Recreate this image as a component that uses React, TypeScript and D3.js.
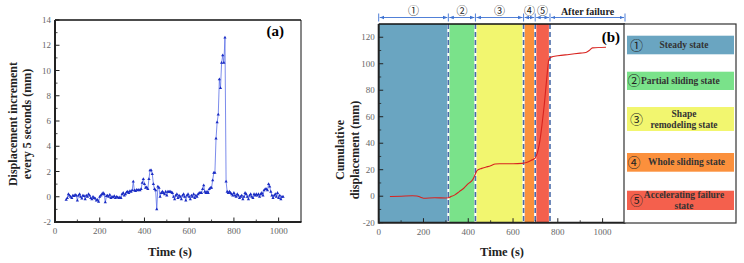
import React from 'react';
import * as d3 from 'd3';

// panel (a): displacement increment every 5 s, 50 s .. 1020 s
const incStart = 50;
const incStep = 5;
const incValues = [
  -0.25, -0.1, 0.2, 0.1, 0.0, -0.1, 0.1, 0.05, 0.15, 0.1,
  -0.3, 0.1, 0.2, 0.0, -0.15, 0.1, 0.05, -0.2, 0.1, 0.0,
  0.2, 0.1, -0.1, -0.2, 0.0, -0.1, -0.15, -0.3, -0.25, -0.4,
  0.0, 0.1, 0.2, 0.3, 0.2, -0.45, 0.05, 0.1, 0.0, 0.15,
  -0.1, 0.0, -0.05, 0.05, -0.1, 0.0, -0.05, -0.1, -0.05, -0.1,
  0.2, 0.3, 0.1, 0.2, 0.35, 0.4, 0.3, 0.45, 0.4, 0.5,
  1.2, 0.5, 0.45, 0.55, 0.5, 0.55, 0.5, 0.6, 1.1, 1.4,
  1.0, 0.7, 0.75, 0.6, 1.4, 2.1, 2.1, 1.8, 1.0, 0.6,
  0.5, -1.0, 0.8, 0.7, 0.0, 0.3, 0.4, 0.3, 0.2, 0.4,
  0.1, 0.4, 0.4, 0.4, 0.35, 0.3, 0.0, -0.2, 0.1, 0.2,
  -0.1, 0.1, 0.0, -0.2, 0.1, 0.2, 0.0, -0.3, 0.1, 0.2,
  0.0, -0.2, 0.1, 0.0, 0.2, -0.1, 0.1, 0.0, 0.2, 0.3,
  0.3, 0.3, 0.6, 0.9, 0.4, 0.3, 0.4, 0.3, 0.6, 0.7,
  0.7, 1.3, 1.9, 1.9, 4.6, 5.9, 6.5, 9.3, 8.6, 10.6,
  11.2, 10.6, 12.6, 1.2, 0.4, 0.3, 0.4, 0.3, 0.2, 0.1,
  0.3, 0.1, 0.0, 0.2, 0.1, -0.1, 0.0, 0.1, -0.2, 0.0,
  0.3, 0.2, 0.0, -0.2, 0.1, 0.2, 0.0, -0.1, 0.2, 0.1,
  0.2, 0.1, 0.2, 0.0, 0.2, 0.3, 0.1, 0.5, 0.6, 0.6,
  0.5, 1.0, 0.8, 0.4, 0.1, -0.1, 0.1, 0.2, 0.0, 0.3,
  -0.1, 0.1, -0.2, 0.0, 0.0,
];

// panel (b): cumulative displacement
const cumTimes = [50, 100, 150, 170, 190, 200, 250, 300, 310, 320, 340, 360, 380, 400, 420, 430, 440, 460, 480, 500, 520, 540, 600, 640, 660, 680, 700, 705, 712, 720, 730, 740, 750, 760, 770, 800, 850, 900, 925, 940, 955, 1015];
const cumValues = [-0.2, 0, 0.3, 0.2, -1, -1.5, -1.2, -1.3, -1.2, -0.5, 1, 3.5, 6, 9.5, 12.5, 16, 19.5, 21, 22, 23, 24.3, 24.5, 24.5, 24.8, 25.5, 27, 29, 31, 35, 42, 55, 70, 88, 103, 105, 106, 107, 108, 108.5, 110, 112, 112.5];

// stage boundaries (s)
const stageBounds = [0, 311, 432, 647, 699, 765, 1100];
const stageLabels = ['①', '②', '③', '④', '⑤', 'After failure'];
const stageColors = ['#6aa5c1', '#7ae28a', '#f2f66f', '#fb903c', '#f4604d'];
const legendLines = [['Steady state'], ['Partial sliding state'], ['Shape', 'remodeling state'], ['Whole sliding state'], ['Accelerating failure', 'state']];
const legendNums = ['①', '②', '③', '④', '⑤'];

const serif = 'Liberation Serif, DejaVu Serif, serif';
const circ = 'Noto Sans CJK SC, DejaVu Sans, sans-serif';
const W = 744;
const H = 263;

function Axes({ x, y, xMajor, xMinor, yMajor, yMinor }: any) {
  const [x0, x1] = x.range();
  const [y0, y1] = y.range();
  return (
    <g>
      {xMinor.map((t: number) => (
        <line key={'xm' + t} x1={x(t)} x2={x(t)} y1={y0} y2={y0 - 2.5} stroke="#222" strokeWidth={0.8} />
      ))}
      {xMajor.map((t: number) => (
        <g key={'x' + t}>
          <line x1={x(t)} x2={x(t)} y1={y0} y2={y0 - 4.5} stroke="#222" strokeWidth={1} />
          <text x={x(t)} y={y0 + 12} textAnchor="middle" fontSize={9} fill="#666" fontFamily={serif}>{t}</text>
        </g>
      ))}
      {yMinor.map((t: number) => (
        <line key={'ym' + t} x1={x0} x2={x0 + 2.5} y1={y(t)} y2={y(t)} stroke="#222" strokeWidth={0.8} />
      ))}
      {yMajor.map((t: number) => (
        <g key={'y' + t}>
          <line x1={x0} x2={x0 + 4.5} y1={y(t)} y2={y(t)} stroke="#222" strokeWidth={1} />
          <text x={x0 - 4} y={y(t) + 3} textAnchor="end" fontSize={9} fill="#666" fontFamily={serif}>{t}</text>
        </g>
      ))}
      <line x1={x0} x2={x1} y1={y1} y2={y1} stroke="#111" strokeWidth={1.5} />
      <line x1={x1} x2={x1} y1={y1} y2={y0} stroke="#111" strokeWidth={1} />
      <line x1={x0} x2={x1 + 0.5} y1={y0} y2={y0} stroke="#222" strokeWidth={2} />
      <line x1={x0} x2={x0} y1={y1} y2={y0 + 1} stroke="#222" strokeWidth={2} />
    </g>
  );
}

export default function App() {
  // ---- panel (a)
  const xa = d3.scaleLinear().domain([0, 1100]).range([55, 301]);
  const ya = d3.scaleLinear().domain([-2, 14]).range([222, 20]);
  const incData = incValues.map((v, i) => ({ t: incStart + i * incStep, v }));
  const lineA = d3.line<any>().x(d => xa(d.t)).y(d => ya(d.v));
  const tri = d3.symbol().type(d3.symbolTriangle).size(4.5)();

  // ---- panel (b)
  const xb = d3.scaleLinear().domain([0, 1100]).range([378.7, 625]);
  const yb = d3.scaleLinear().domain([-20, 130]).range([222.7, 24]);
  const cumData = cumTimes.map((t, i) => ({ t, v: cumValues[i] }));
  const lineB = d3.line<any>().x(d => xb(d.t)).y(d => yb(d.v)).curve(d3.curveMonotoneX);

  const xMajor = d3.range(0, 1001, 200);
  const xMinor = d3.range(100, 1100, 200);

  const legendY = [[35.7, 54.3], [71.7, 90], [107, 131], [153, 171.7], [190.7, 210]];
  const arrowY = 17.5;

  return (
    <svg width={W} height={H} style={{ position: 'absolute', left: 0, top: 0, background: '#fff' }}>
      <defs>
        <marker id="arr" viewBox="0 0 10 10" refX={10} refY={5} markerWidth={5} markerHeight={5} orient="auto-start-reverse">
          <path d="M0,1 L10,5 L0,9 z" fill="#3d72d2" />
        </marker>
      </defs>

      {/* ===== panel (a) ===== */}
      <path d={lineA(incData) || ''} fill="none" stroke="#5a6ee6" strokeWidth={0.8} />
      {incData.map((d, i) => (
        <path key={i} d={tri || ''} transform={`translate(${xa(d.t)},${ya(d.v)})`} fill="#1a2cc4" />
      ))}
      <Axes x={xa} y={ya} xMajor={xMajor} xMinor={xMinor} yMajor={d3.range(-2, 15, 2)} yMinor={d3.range(-1, 14, 2)} />
      <text x={284} y={36} textAnchor="end" fontSize={15} fontWeight="bold" fontFamily={serif}>(a)</text>
      <text x={170} y={256} textAnchor="middle" fontSize={12.5} fontWeight="bold" fontFamily={serif} fill="#222">Time (s)</text>
      <text transform="translate(17,124) rotate(-90)" textAnchor="middle" fontSize={12} fontWeight="bold" fontFamily={serif} fill="#222">Displacement increment</text>
      <text transform="translate(31,124) rotate(-90)" textAnchor="middle" fontSize={12} fontWeight="bold" fontFamily={serif} fill="#222">every 5 seconds (mm)</text>

      {/* ===== panel (b) ===== */}
      {stageColors.map((c, i) => (
        <rect key={i} x={xb(stageBounds[i])} y={yb(130)} width={xb(stageBounds[i + 1]) - xb(stageBounds[i])} height={yb(-20) - yb(130)} fill={c} />
      ))}
      {stageBounds.slice(1, 6).map((b, i) => (
        <g key={i}>
          <line x1={xb(b)} x2={xb(b)} y1={yb(130)} y2={yb(-20)} stroke="#fff" strokeWidth={2.2} />
          <line x1={xb(b)} x2={xb(b)} y1={yb(130)} y2={yb(-20)} stroke="#4a6aa8" strokeWidth={1.6} strokeDasharray="5,3" />
        </g>
      ))}
      <path d={lineB(cumData) || ''} fill="none" stroke="#d8231f" strokeWidth={1.1} />
      <Axes x={xb} y={yb} xMajor={xMajor} xMinor={xMinor} yMajor={d3.range(-20, 121, 20)} yMinor={d3.range(-10, 130, 20)} />
      <text x={620} y={42} textAnchor="end" fontSize={15} fontWeight="bold" fontFamily={serif}>(b)</text>
      <text x={502} y={256} textAnchor="middle" fontSize={12.5} fontWeight="bold" fontFamily={serif} fill="#222">Time (s)</text>
      <text transform="translate(344,150) rotate(-90)" textAnchor="middle" fontSize={12} fontWeight="bold" fontFamily={serif} fill="#222">Cumulative</text>
      <text transform="translate(359,150) rotate(-90)" textAnchor="middle" fontSize={12} fontWeight="bold" fontFamily={serif} fill="#222">displacement (mm)</text>

      {/* stage brackets above panel (b) */}
      {stageLabels.map((s, i) => {
        const a = xb(stageBounds[i]);
        const b = xb(stageBounds[i + 1]);
        return (
          <g key={i}>
            <line x1={a + 1} x2={b - 1} y1={arrowY} y2={arrowY} stroke="#3d72d2" strokeWidth={0.9} markerStart="url(#arr)" markerEnd="url(#arr)" />
            <text x={(a + b) / 2} y={i === 5 ? 14.5 : 14.5} textAnchor="middle" fontSize={i === 5 ? 10 : 11} fontWeight={i === 5 ? 'bold' : 'normal'} fontFamily={i === 5 ? serif : circ} fill="#222">{s}</text>
          </g>
        );
      })}
      {stageBounds.map((b, i) => (
        <line key={i} x1={xb(b)} x2={xb(b)} y1={arrowY - 4} y2={arrowY + 4} stroke="#3d72d2" strokeWidth={0.9} />
      ))}

      {/* legend box */}
      <rect x={624} y={24} width={112} height={199} fill="#fff" stroke="#333" strokeWidth={1.2} />
      {legendY.map(([t, b], i) => {
        const lines = legendLines[i];
        const cy = (t + b) / 2;
        const oneLine = lines.length === 1;
        const longText = i === 1 || i === 3;
        return (
          <g key={i}>
            <rect x={627} y={t} width={107} height={b - t} fill={stageColors[i]} />
            <text x={i === 1 || i === 3 ? 627.5 : 630} y={cy + 4.5} fontSize={13} fontFamily={circ} fill="#222">{legendNums[i]}</text>
            {lines.map((l, j) => (
              <text key={j}
                x={longText ? (i === 1 ? 641 : 648) : 684}
                y={oneLine ? cy + 3 : cy - 2.5 + j * 11}
                textAnchor={longText ? 'start' : 'middle'}
                fontSize={9.5} fontWeight="bold" fontFamily={serif} fill="#333">{l}</text>
            ))}
          </g>
        );
      })}
    </svg>
  );
}
